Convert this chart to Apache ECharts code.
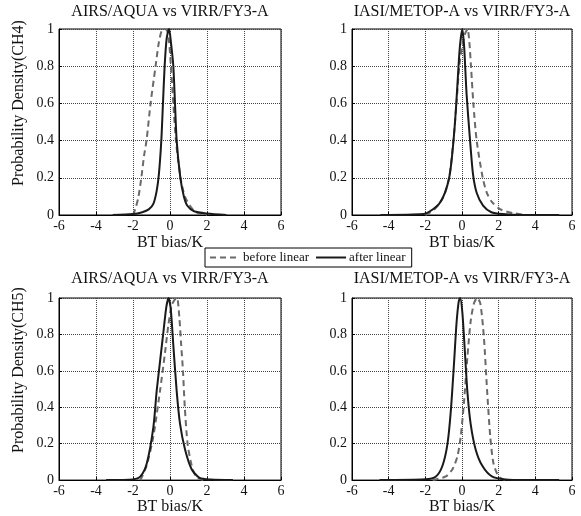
<!DOCTYPE html>
<html>
<head>
<meta charset="utf-8">
<script src="https://cdn.jsdelivr.net/npm/echarts@6/dist/echarts.min.js"></script>
<style>html,body{margin:0;padding:0;background:#fff;}#c{width:581px;height:516px;}</style>
</head>
<body>
<div id="c"></div>
<script>
// Titles and labels
const titles = ['AIRS/AQUA vs VIRR/FY3-A', 'IASI/METOP-A vs VIRR/FY3-A', 'AIRS/AQUA vs VIRR/FY3-A', 'IASI/METOP-A vs VIRR/FY3-A'];
const yNames = ['Probability Density(CH4)', '', 'Probability Density(CH5)', ''];
const xName = 'BT bias/K';
const seriesNames = ['before linear', 'after linear'];

// CH4, AIRS/AQUA
const ch4AirsBefore = [[-2.0,0],[-1.85,0.04],[-1.7,0.1],[-1.55,0.2],[-1.4,0.32],[-1.27,0.4],[-1.05,0.6],[-0.78,0.8],[-0.6,0.93],[-0.45,0.99],[-0.3,1.0],[-0.15,0.99],[-0.05,0.93],[0.05,0.8],[0.18,0.6],[0.32,0.4],[0.57,0.2],[0.8,0.1],[1.08,0.05],[1.4,0.015],[2.0,0]];
const ch4AirsAfter = [[-3.1,0],[-2.0,0.005],[-1.5,0.015],[-1.15,0.03],[-0.9,0.06],[-0.72,0.13],[-0.6,0.22],[-0.47,0.4],[-0.38,0.6],[-0.29,0.8],[-0.18,0.95],[-0.05,1.0],[0.06,0.92],[0.18,0.8],[0.27,0.6],[0.36,0.4],[0.56,0.2],[0.75,0.1],[0.94,0.05],[1.3,0.02],[2.0,0.008],[3.05,0]];
// CH4, IASI/METOP-A
const ch4IasiBefore = [[-2.0,0],[-1.5,0.03],[-1.0,0.1],[-0.7,0.2],[-0.47,0.4],[-0.3,0.6],[-0.15,0.8],[0.0,0.9],[0.15,0.97],[0.3,1.0],[0.4,0.93],[0.49,0.8],[0.62,0.6],[0.8,0.4],[1.13,0.2],[1.35,0.12],[1.63,0.07],[2.1,0.03],[2.8,0.01],[3.5,0]];
const ch4IasiAfter = [[-4.45,0],[-2.1,0.005],[-1.75,0.02],[-1.25,0.06],[-0.93,0.12],[-0.7,0.2],[-0.56,0.3],[-0.38,0.5],[-0.25,0.7],[-0.12,0.9],[0.02,1.0],[0.12,0.9],[0.25,0.65],[0.44,0.4],[0.6,0.22],[0.8,0.12],[1.15,0.05],[1.6,0.015],[2.2,0.005],[3.3,0],[5.3,0]];
// CH5, AIRS/AQUA
const ch5AirsBefore = [[-1.6,0],[-1.26,0.08],[-0.9,0.24],[-0.54,0.49],[-0.27,0.7],[-0.09,0.85],[0.09,0.96],[0.25,0.99],[0.38,1.0],[0.5,0.9],[0.6,0.75],[0.7,0.6],[0.8,0.4],[0.95,0.2],[1.15,0.09],[1.4,0.02],[1.8,0]];
const ch5AirsAfter = [[-3.45,0],[-2.0,0.004],[-1.6,0.02],[-1.26,0.09],[-0.9,0.29],[-0.72,0.49],[-0.54,0.65],[-0.36,0.81],[-0.2,0.95],[-0.08,1.0],[0.04,0.94],[0.18,0.74],[0.36,0.49],[0.54,0.31],[0.81,0.17],[1.17,0.06],[1.6,0.012],[2.2,0.003],[3.4,0]];
// CH5, IASI/METOP-A
const ch5IasiBefore = [[-1.6,0],[-0.88,0.02],[-0.52,0.06],[-0.25,0.13],[-0.07,0.24],[0.11,0.43],[0.29,0.67],[0.47,0.87],[0.65,0.97],[0.83,1.0],[1.0,0.97],[1.19,0.79],[1.37,0.49],[1.54,0.24],[1.72,0.09],[2.0,0.02],[2.35,0]];
const ch5IasiAfter = [[-4.5,0],[-2.0,0.004],[-1.42,0.02],[-1.06,0.08],[-0.79,0.2],[-0.61,0.38],[-0.43,0.65],[-0.3,0.86],[-0.18,0.98],[-0.1,1.0],[0.02,0.92],[0.16,0.7],[0.29,0.49],[0.47,0.31],[0.74,0.17],[1.1,0.08],[1.63,0.02],[2.37,0.003],[3.5,0],[5.3,0]];

const panels = [
  [ch4AirsBefore, ch4AirsAfter],
  [ch4IasiBefore, ch4IasiAfter],
  [ch5AirsBefore, ch5AirsAfter],
  [ch5IasiBefore, ch5IasiAfter]
];

const font = 'Liberation Serif';
const gridPos = [
  {left: 59, top: 29, width: 222, height: 186},
  {left: 352, top: 29, width: 220, height: 186},
  {left: 59, top: 298, width: 222, height: 185},
  {left: 352, top: 298, width: 220, height: 185}
];
const titlePos = [
  {x: 170, y: 4}, {x: 462, y: 4}, {x: 170, y: 271}, {x: 462, y: 271}
];
const xNameGaps = [20, 20, 18, 18];

const grids = [], xAxes = [], yAxes = [], series = [], titleArr = [];
gridPos.forEach((g, i) => {
  grids.push(Object.assign({show: true, borderColor: '#000', borderWidth: 1, backgroundColor: 'transparent', containLabel: false}, g));
  titleArr.push({text: titles[i], left: titlePos[i].x, top: titlePos[i].y, textAlign: 'center', padding: 0,
    textStyle: {fontFamily: font, fontSize: 16, fontWeight: 'normal', color: '#111'}});
  xAxes.push({type: 'value', gridIndex: i, min: -6, max: 6, interval: 2,
    name: xName, nameLocation: 'middle', nameGap: xNameGaps[i],
    nameTextStyle: {fontFamily: font, fontSize: 16, color: '#111'},
    axisLine: {show: true, onZero: false, lineStyle: {color: '#000', width: 1}},
    axisTick: {show: true, inside: true, length: 3, lineStyle: {color: '#000'}},
    axisLabel: {fontFamily: font, fontSize: 14, color: '#111', margin: 4},
    splitLine: {show: true, lineStyle: {color: '#444', type: [1, 1], width: 1}}});
  yAxes.push({type: 'value', gridIndex: i, min: 0, max: 1, interval: 0.2,
    name: yNames[i], nameLocation: 'middle', nameGap: 32,
    nameTextStyle: {fontFamily: font, fontSize: 16, color: '#111', padding: [0, 0, 0, 38]},
    axisLine: {show: true, onZero: false, lineStyle: {color: '#000', width: 1}},
    axisTick: {show: true, inside: true, length: 3, lineStyle: {color: '#000'}},
    axisLabel: {fontFamily: font, fontSize: 14, color: '#111', margin: 5,
      formatter: v => (v === 0 ? '0' : v === 1 ? '1' : String(Math.round(v * 10) / 10))},
    splitLine: {show: true, lineStyle: {color: '#444', type: [1, 1], width: 1}}});
  series.push({name: seriesNames[0], type: 'line', xAxisIndex: i, yAxisIndex: i, data: panels[i][0],
    showSymbol: false, symbol: 'none', smooth: 0.25, color: '#6a6a6a',
    lineStyle: {color: '#6a6a6a', width: 2, type: [6, 4]}, z: 3});
  series.push({name: seriesNames[1], type: 'line', xAxisIndex: i, yAxisIndex: i, data: panels[i][1],
    showSymbol: false, symbol: 'none', smooth: 0.25, color: '#1a1a1a',
    lineStyle: {color: '#1a1a1a', width: 2}, z: 4});
});

const chart = echarts.init(document.getElementById('c'), null, {renderer: 'canvas'});
chart.setOption({
  animation: false,
  backgroundColor: '#fff',
  title: titleArr,
  grid: grids,
  xAxis: xAxes,
  yAxis: yAxes,
  series: series,
  legend: {
    data: seriesNames, left: 205, top: 248, itemGap: 6,
    itemWidth: 30, itemHeight: 8, padding: [3, 6, 3, 4],
    borderColor: '#000', borderWidth: 1, borderRadius: 0,
    backgroundColor: '#fff',
    itemStyle: {opacity: 0},
    textStyle: {fontFamily: font, fontSize: 13, color: '#111', padding: [0, 0, 0, -2]}
  }
});
</script>
</body>
</html>
